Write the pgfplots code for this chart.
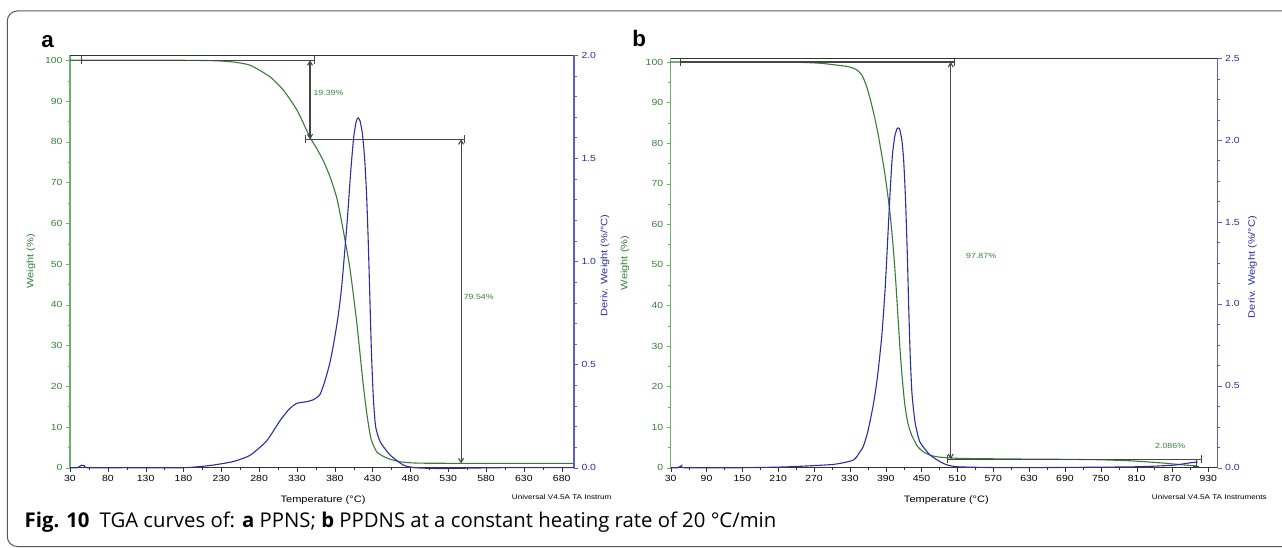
\documentclass[border=0pt]{standalone}
\usepackage{pgfplots}
\pgfplotsset{compat=1.18}
\usepackage{fontspec}
\setmainfont{Liberation Sans}
\newfontfamily\chartfont[FakeStretch=1.18]{Liberation Sans}
\newfontfamily\capfont{Open Sans}
\usetikzlibrary{arrows.meta}
\definecolor{gcurve}{RGB}{55,125,55}
\definecolor{bcurve}{RGB}{45,45,165}
\definecolor{gtext}{RGB}{55,130,55}
\definecolor{btext}{RGB}{45,45,165}
\definecolor{gaxis}{RGB}{110,175,110}
\definecolor{baxis}{RGB}{95,95,195}
\definecolor{annot}{RGB}{70,70,70}
\pgfplotsset{
  tga/.style={scale only axis, anchor=south west, clip=false,
    /pgf/number format/assume math mode=true,
    tick align=outside, major tick length=4bp, minor tick length=2.5bp,
    axis line style={-},
    tick label style={font=\chartfont\fontsize{8.9}{10}\selectfont},
    label style={font=\chartfont\fontsize{9.4}{11}\selectfont}},
}
\tikzset{
  ann/.style={annot, line width=1.1bp},
  dbl/.style={ann, {Straight Barb[length=4bp,width=5bp]}-{Straight Barb[length=4bp,width=5bp]}},
  endbar/.style={ann, {Bar[width=8bp]}-{Bar[width=8bp]}},
  pct/.style={gtext, anchor=west, inner sep=0pt, font=\chartfont\fontsize{7.5}{9}\selectfont},
  brand/.style={anchor=west, inner sep=0pt, font=\chartfont\fontsize{6.9}{8}\selectfont},
}
\begin{document}
\begin{tikzpicture}
\useasboundingbox (0bp,0bp) rectangle (1282bp,548bp);
\draw[rounded corners=10bp, line width=1bp, black!65] (1300bp,537bp) -- (7.3bp,537bp) -- (7.3bp,1.5bp) -- (1300bp,1.5bp);

% ---------------- panel a ----------------
\begin{axis}[tga, at={(70bp,80.3bp)}, width=504bp, height=412.7bp,
  xmin=30, xmax=696.3, ymin=0, ymax=101.3,
  axis x line*=bottom, axis y line*=left,
  xtick={30,80,...,680}, minor x tick num=1,
  ytick={0,10,...,100}, minor y tick num=1,
  y axis line style={gaxis, line width=1.2bp},
  x axis line style={black!80, line width=0.8bp},
  y tick style={gaxis}, x tick style={black!80},
  yticklabel style={gtext},
  xlabel={Temperature (°C)}, ylabel={Weight (\%)},
  xlabel style={at={(axis description cs:0.502,-0.0795)}, anchor=center},
  ylabel style={gtext, at={(axis description cs:-0.0774,0.5)}, anchor=center}]
\draw[black!80, line width=0.8bp] (rel axis cs:0,1) -- (rel axis cs:1,1);
\addplot[gcurve, line width=1.1bp, smooth, tension=0.35] coordinates {
(30,100) (100,100) (180,100) (220,99.9) (245,99.6) (268,98.8) (294,96) (312,92.7)
(330,87.8) (347,81.2) (356,78.4) (365,75.3) (374,71.3) (383,66) (391,58.5)
(400,49) (409,35.8) (417.6,20.5) (423,12.5) (428,7) (435.5,3.9) (445,2.7)
(453,2.1) (465,1.5) (480,1.2) (500,1.1) (550,1.07) (600,1.07) (696,1.05)};
\draw[endbar] (axis cs:44.5,100) -- (axis cs:354,100);
\draw[dbl] (axis cs:347.3,100) -- (axis cs:347.3,80.61);
\draw[endbar] (axis cs:341,80.61) -- (axis cs:552.8,80.61);
\draw[dbl] (axis cs:547,80.61) -- (axis cs:547,1.07);
\node[pct] at (axis cs:351.7,91.9) {19.39\%};
\node[pct] at (axis cs:550.3,42) {79.54\%};
\end{axis}
\begin{axis}[tga, at={(70bp,80.3bp)}, width=504bp, height=412.7bp,
  xmin=30, xmax=696.3, ymin=0, ymax=2,
  axis x line=none, axis y line*=right,
  ytick={0,0.5,1,1.5,2}, yticklabels={0.0,0.5,1.0,1.5,2.0}, minor y tick num=4,
  y axis line style={baxis, line width=1.2bp},
  y tick style={baxis}, yticklabel style={btext},
  ylabel={Deriv. Weight (\%/°C)},
  ylabel style={btext, at={(axis description cs:1.0615,0.49)}, anchor=center}]
\addplot[bcurve, line width=1.1bp, smooth, tension=0.35] coordinates {
(30,0) (40,0) (45,0.012) (49,0.01) (53,0) (100,0) (180,0) (200,0.005) (220,0.013)
(246,0.03) (268,0.06) (290,0.13) (308,0.23) (320,0.285) (330,0.312) (343,0.32)
(352,0.33) (360.5,0.355) (367,0.42) (373.7,0.51) (379,0.61) (384.7,0.74)
(389,0.87) (393,1.04) (397,1.22) (401,1.43) (405,1.6) (408.5,1.68) (411,1.695)
(413.5,1.68) (416.5,1.62) (419.5,1.5) (422,1.33) (424,1.13) (426,0.88)
(428.5,0.56) (431,0.34) (434,0.2) (440,0.126) (453,0.062)
(470.6,0.013) (486,0) (520,-0.004) (600,0) (696,0)};
\end{axis}
\node[brand] at (511.7bp,50.7bp) {Universal V4.5A TA Instrum};

% ---------------- panel b ----------------
\begin{axis}[tga, at={(670.7bp,80.3bp)}, width=547bp, height=409.5bp,
  xmin=30, xmax=945.8, ymin=0, ymax=100.94,
  axis x line*=bottom, axis y line*=left,
  xtick={30,90,...,930}, minor x tick num=1,
  ytick={0,10,...,100}, minor y tick num=1,
  y axis line style={gaxis, line width=1.2bp},
  x axis line style={black!80, line width=0.8bp},
  y tick style={gaxis}, x tick style={black!80},
  yticklabel style={gtext},
  xlabel={Temperature (°C)}, ylabel={Weight (\%)},
  xlabel style={at={(axis description cs:0.504,-0.080)}, anchor=center},
  ylabel style={gtext, at={(axis description cs:-0.0835,0.5)}, anchor=center}]
\draw[black!80, line width=0.8bp] (rel axis cs:0,1) -- (rel axis cs:1,1);
\addplot[gcurve, line width=1.1bp, smooth, tension=0.35] coordinates {
(30,100) (150,100) (224,100) (280,99.7) (325,98.9) (340,98.2) (350,96.8) (358,94)
(365,90.3) (372,86) (378,81.6) (384,76.5) (389,72) (397,63) (402.7,54) (407,45.4)
(414,29) (418,21.5) (422,15.5) (427,11) (433.5,8) (443,5.3) (453,3.9) (466,3)
(481,2.6) (514,2.3) (600,2.15) (700,2.05) (749,1.95) (800,1.7) (850,1.2) (880,0.8) (912,0.4)};
\draw[endbar] (axis cs:45.6,100) -- (axis cs:506,100);
\draw[dbl] (axis cs:498.8,100) -- (axis cs:498.8,2.13);
\draw[endbar] (axis cs:492,2.13) -- (axis cs:919,2.13);
\draw[ann, {Bar[width=6bp]}-{Bar[width=6bp]}] (axis cs:910,2.13) -- (axis cs:910,0.05);
\node[pct] at (axis cs:524.4,52.3) {97.87\%};
\node[pct] at (axis cs:840.8,5.4) {2.086\%};
\end{axis}
\begin{axis}[tga, at={(670.7bp,80.3bp)}, width=547bp, height=409.5bp,
  xmin=30, xmax=945.8, ymin=0, ymax=2.5,
  axis x line=none, axis y line*=right,
  ytick={0,0.5,1,1.5,2,2.5}, yticklabels={0.0,0.5,1.0,1.5,2.0,2.5}, minor y tick num=3,
  y axis line style={baxis, line width=1.2bp},
  y tick style={baxis}, yticklabel style={btext},
  ylabel={Deriv. Weight (\%/°C)},
  ylabel style={btext, at={(axis description cs:1.0636,0.49)}, anchor=center}]
\addplot[bcurve, line width=1.1bp, smooth, tension=0.35] coordinates {
(30,0) (42,0) (48,0.012) (53,0) (150,0) (224,0.005) (302,0.02) (336,0.047)
(347,0.098) (352.5,0.13) (360,0.22) (369,0.38) (376,0.55) (383.3,0.8)
(388.8,1.08) (392.7,1.35) (397,1.66) (401,1.9) (405,2.02) (409,2.07) (413,2.07)
(417,2.0) (420,1.88) (423,1.65) (426,1.32) (428.5,0.98) (431,0.68) (434,0.45)
(439,0.28) (447,0.159) (464,0.078) (486,0.027) (509,0.006) (600,0) (800,0.005)
(870,0.015) (900,0.03) (912,0.035)};
\end{axis}
\node[brand] at (1151.7bp,50.7bp) {Universal V4.5A TA Instruments};

% panel letters and caption
\node[anchor=base west, inner sep=0pt, font=\fontsize{22.5}{24}\selectfont\bfseries] at (41.2bp,500.7bp) {a};
\node[anchor=base west, inner sep=0pt, font=\fontsize{22.5}{24}\selectfont\bfseries] at (632.2bp,501.3bp) {b};
\node[anchor=base west, inner sep=0pt, font=\capfont\fontsize{20.4}{23}\selectfont] at (24.5bp,20.7bp)
  {\textbf{Fig. 10}\enspace TGA curves of: \textbf{a} PPNS; \textbf{b} PPDNS at a constant heating rate of 20 °C/min};
\end{tikzpicture}
\end{document}
